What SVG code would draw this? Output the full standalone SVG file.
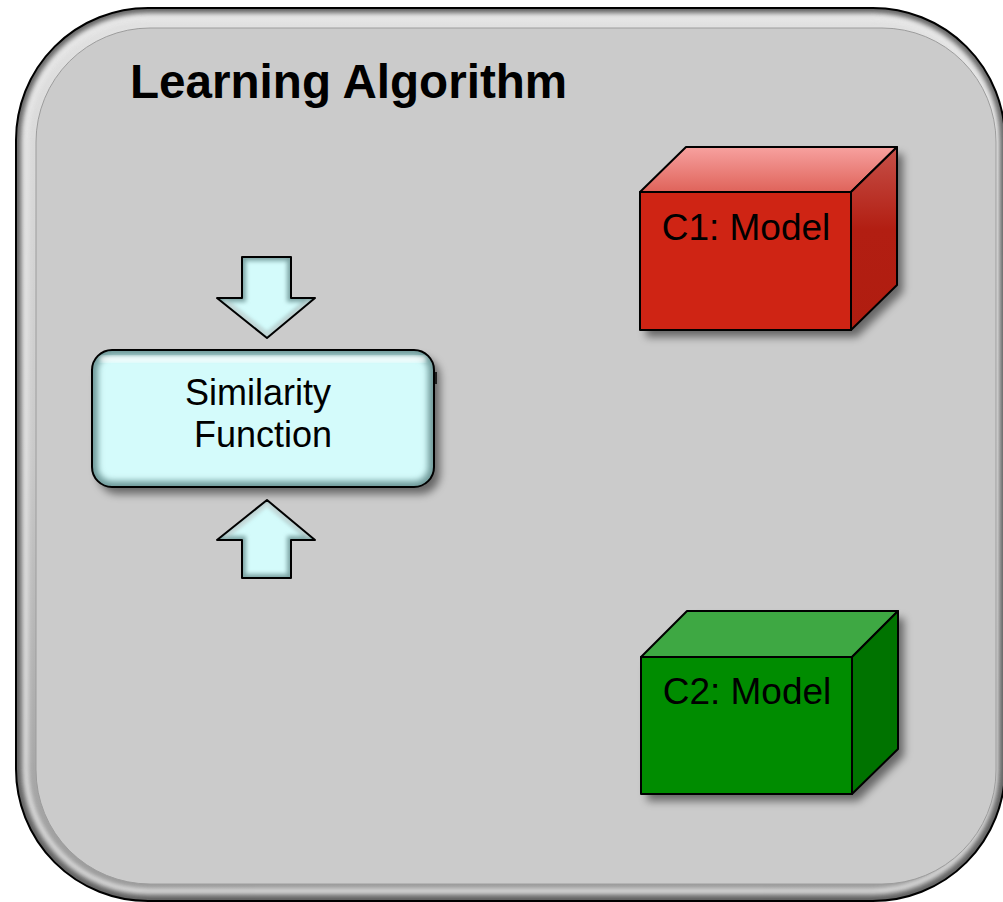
<svg xmlns="http://www.w3.org/2000/svg" width="1003" height="902" viewBox="0 0 1003 902">
  <defs>
    <style>
      .title { font-family: "Liberation Sans", Arial, sans-serif; font-weight: bold; font-size: 47.6px; fill: #000; }
      .label { font-family: "Liberation Sans", Arial, sans-serif; font-size: 36px; fill: #000; text-anchor: middle; }
      .edge { stroke: #000; stroke-width: 2; stroke-linejoin: round; }
      .cyan { fill: #d4fbfb; }
    </style>
    <linearGradient id="frameGrad" x1="0" y1="0" x2="0" y2="1">
      <stop offset="0" stop-color="#e2e2e2"/>
      <stop offset="0.5" stop-color="#c9c9c9"/>
      <stop offset="1" stop-color="#9a9a9a"/>
    </linearGradient>
    <linearGradient id="redTop" x1="0" y1="0" x2="0" y2="1">
      <stop offset="0" stop-color="#f7a19f"/>
      <stop offset="1" stop-color="#df635a"/>
    </linearGradient>
    <linearGradient id="redSide" x1="0" y1="0" x2="0" y2="1">
      <stop offset="0" stop-color="#c65149"/>
      <stop offset="0.45" stop-color="#b21e12"/>
      <stop offset="1" stop-color="#b01d10"/>
    </linearGradient>
    <filter id="shadow" x="-10%" y="-10%" width="130%" height="130%">
      <feGaussianBlur in="SourceAlpha" stdDeviation="4"/>
      <feOffset dx="6" dy="7" result="b"/>
      <feComponentTransfer><feFuncA type="linear" slope="0.5"/></feComponentTransfer>
      <feMerge><feMergeNode/><feMergeNode in="SourceGraphic"/></feMerge>
    </filter>
    <filter id="soft" x="-10%" y="-10%" width="120%" height="120%">
      <feGaussianBlur stdDeviation="3"/>
    </filter>
    <filter id="soft2" x="-10%" y="-10%" width="120%" height="120%">
      <feGaussianBlur stdDeviation="2"/>
    </filter>
    <clipPath id="frameClip">
      <rect x="16" y="8" width="989" height="893" rx="132"/>
    </clipPath>
    <clipPath id="boxClip">
      <rect x="92" y="350" width="342" height="137" rx="20"/>
    </clipPath>
    <path id="arrowDown" d="M242,257 H291 V298 H315 L267,338 L217,298 H242 Z"/>
    <path id="arrowUp" d="M242,578 H291 V540 H315 L267,500 L217,540 H242 Z"/>
    <clipPath id="downClip"><use href="#arrowDown"/></clipPath>
    <clipPath id="upClip"><use href="#arrowUp"/></clipPath>
  </defs>

  <!-- container: Learning Algorithm -->
  <g id="container">
    <rect x="16" y="8" width="989" height="893" rx="132" fill="url(#frameGrad)"/>
    <g clip-path="url(#frameClip)">
      <rect x="16" y="8" width="989" height="893" rx="132" fill="none" stroke="#5a5a5a" stroke-width="10" filter="url(#soft)"/>
      <rect x="26" y="18" width="969" height="873" rx="122" fill="none" stroke="#ececec" stroke-width="5" filter="url(#soft2)" opacity="0.8"/>
    </g>
    <rect x="16" y="8" width="989" height="893" rx="132" fill="none" stroke="#000" stroke-width="2"/>
    <rect x="36" y="28" width="960" height="856" rx="114" fill="#cbcbcb" stroke="#9d9d9d" stroke-width="1"/>
    <text class="title" x="130" y="98">Learning Algorithm</text>
  </g>

  <!-- connectors: input arrows into the similarity function -->
  <g id="connectors">
    <g id="arrow-in-top">
      <use href="#arrowDown" class="cyan"/>
      <g clip-path="url(#downClip)">
        <use href="#arrowDown" fill="none" stroke="#7fa6a6" stroke-width="8" filter="url(#soft2)"/>
        <path d="M224,301 L267,336 L310,301" fill="none" stroke="#ffffff" stroke-width="4" opacity="0.7" filter="url(#soft2)"/>
      </g>
      <use href="#arrowDown" fill="none" class="edge"/>
    </g>
    <g id="arrow-in-bottom">
      <use href="#arrowUp" class="cyan"/>
      <g clip-path="url(#upClip)">
        <use href="#arrowUp" fill="none" stroke="#7fa6a6" stroke-width="8" filter="url(#soft2)"/>
        <path d="M224,537 L267,503 L310,537" fill="none" stroke="#ffffff" stroke-width="4" opacity="0.7" filter="url(#soft2)"/>
      </g>
      <use href="#arrowUp" fill="none" class="edge"/>
    </g>
  </g>

  <!-- node: Similarity Function -->
  <g id="similarity-function">
    <g filter="url(#shadow)">
      <rect x="92" y="350" width="342" height="137" rx="20" class="cyan"/>
    </g>
    <g clip-path="url(#boxClip)">
      <rect x="92" y="350" width="342" height="137" rx="20" fill="none" stroke="#6f9a9a" stroke-width="12" filter="url(#soft)"/>
      <rect x="100" y="356" width="326" height="6" rx="3" fill="#ffffff" opacity="0.8" filter="url(#soft2)"/>
    </g>
    <rect x="92" y="350" width="342" height="137" rx="20" fill="none" class="edge"/>
    <line x1="436" y1="372" x2="436" y2="384" stroke="#000" stroke-width="1.5"/>
    <text class="label" x="258" y="405">Similarity</text>
    <text class="label" x="263" y="447">Function</text>
  </g>

  <!-- node: C1 Model -->
  <g id="c1-model">
    <g filter="url(#shadow)">
      <path d="M640,192 L686,147 L897,147 L897,285 L851,330 L640,330 Z" fill="#cf2414"/>
    </g>
    <path d="M640,192 L686,147 L897,147 L851,192 Z" fill="url(#redTop)" class="edge"/>
    <path d="M851,192 L897,147 L897,285 L851,330 Z" fill="url(#redSide)" class="edge"/>
    <rect x="640" y="192" width="211" height="138" fill="#cf2414" class="edge"/>
    <text class="label" x="746" y="240" style="font-size:37px">C1: Model</text>
  </g>

  <!-- node: C2 Model -->
  <g id="c2-model">
    <g filter="url(#shadow)">
      <path d="M641,657 L687,611 L898,611 L898,749 L852,794 L641,794 Z" fill="#008c00"/>
    </g>
    <path d="M641,657 L687,611 L898,611 L852,657 Z" fill="#3ea843" class="edge"/>
    <path d="M852,657 L898,611 L898,749 L852,794 Z" fill="#007300" class="edge"/>
    <rect x="641" y="657" width="211" height="137" fill="#008c00" class="edge"/>
    <text class="label" x="747" y="704" style="font-size:37px">C2: Model</text>
  </g>
</svg>
